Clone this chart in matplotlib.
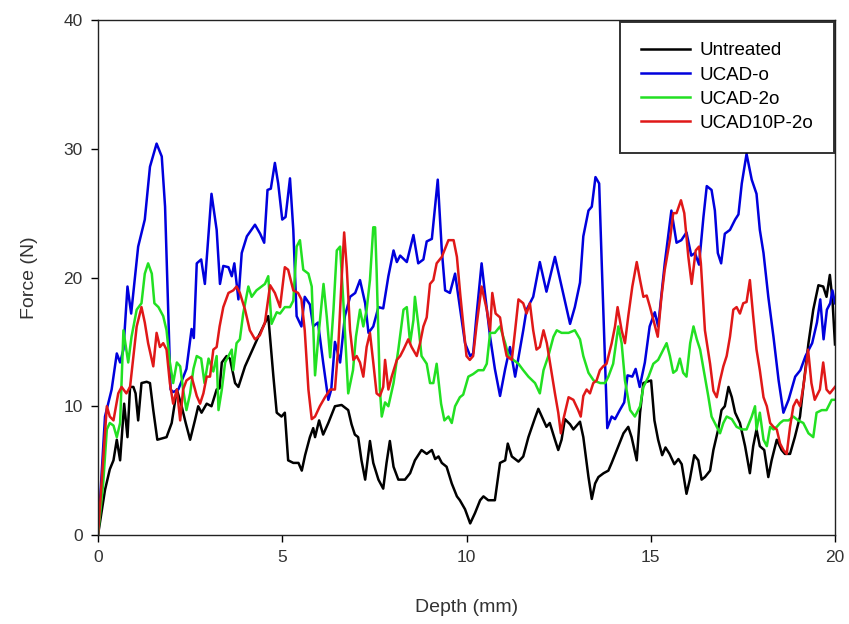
import matplotlib
matplotlib.use("Agg")
import matplotlib.pyplot as plt

plt.rcParams['font.family'] = ['Liberation Sans', 'DejaVu Sans']

series_names = ["Untreated", "UCAD-o", "UCAD-2o", "UCAD10P-2o"]
series_colors = ["#000000", "#0000dd", "#22e022", "#e01818"]

untreated_x = [0, 0.19, 0.32, 0.42, 0.51, 0.6, 0.71, 0.8, 0.87, 0.96, 1.02, 1.09, 1.18, 1.32, 1.41, 1.5,
               1.61, 1.73, 1.86, 2.0, 2.14, 2.27, 2.38, 2.5, 2.63, 2.72, 2.81, 2.95, 3.08, 3.22, 3.3,
               3.36, 3.49, 3.58, 3.72, 3.81, 3.99, 4.35, 4.62, 4.76, 4.85, 4.98, 5.07, 5.16, 5.3, 5.44,
               5.53, 5.62, 5.75, 5.84, 5.89, 6.0, 6.11, 6.25, 6.43, 6.61, 6.79, 6.88, 6.97, 7.06, 7.15,
               7.25, 7.34, 7.38, 7.47, 7.61, 7.74, 7.83, 7.92, 8.02, 8.15, 8.33, 8.47, 8.6, 8.78, 8.92,
               9.06, 9.15, 9.24, 9.33, 9.46, 9.6, 9.74, 9.82, 9.96, 10.1, 10.23, 10.37, 10.46, 10.59,
               10.77, 10.91, 11.05, 11.12, 11.23, 11.41, 11.54, 11.68, 11.86, 11.95, 12.09, 12.17,
               12.26, 12.4, 12.49, 12.58, 12.67, 12.81, 12.9, 13.08, 13.17, 13.31, 13.4, 13.49, 13.58,
               13.72, 13.85, 13.94, 14.08, 14.26, 14.39, 14.48, 14.62, 14.71, 14.8, 14.89, 15.01, 15.1,
               15.2, 15.31, 15.4, 15.51, 15.64, 15.75, 15.84, 15.97, 16.06, 16.18, 16.29, 16.38, 16.47,
               16.61, 16.7, 16.83, 16.92, 17.01, 17.11, 17.2, 17.29, 17.42, 17.56, 17.69, 17.78, 17.87,
               17.96, 18.08, 18.19, 18.28, 18.42, 18.55, 18.64, 18.78, 18.91, 19.05, 19.14, 19.28,
               19.41, 19.55, 19.68, 19.77, 19.86, 19.93, 20.0]
untreated_y = [0, 3.5, 5.1, 5.8, 7.4, 5.8, 10.2, 7.6, 11.5, 11.5, 11.0, 8.9, 11.8, 11.9, 11.8, 9.7,
               7.4, 7.5, 7.6, 8.7, 11.3, 10.0, 8.7, 7.4, 8.9, 10.0, 9.5, 10.2, 10.0, 11.3, 11.4,
               13.4, 13.9, 13.7, 11.8, 11.5, 13.1, 15.4, 17.0, 12.3, 9.5, 9.2, 9.5, 5.8, 5.6, 5.6,
               5.0, 6.2, 7.6, 8.3, 7.6, 8.9, 7.8, 8.7, 10.0, 10.1, 9.7, 8.6, 7.8, 7.6, 5.8,
               4.3, 6.4, 7.3, 5.6, 4.3, 3.6, 5.6, 7.3, 5.3, 4.3, 4.3, 4.8, 5.8, 6.6, 6.3,
               6.6, 5.9, 6.1, 5.6, 5.3, 4.0, 3.0, 2.7, 2.0, 0.9, 1.7, 2.7, 3.0, 2.7,
               2.7, 5.6, 5.8, 7.1, 6.1, 5.7, 6.1, 7.6, 9.1, 9.8, 8.9, 8.4,
               8.7, 7.4, 6.6, 7.4, 9.0, 8.6, 8.2, 8.8, 7.6, 4.5, 2.8, 4.0, 4.5,
               4.8, 5.0, 5.6, 6.6, 7.9, 8.4, 7.6, 5.8, 9.5, 11.8, 11.9, 12.0, 8.9,
               7.4, 6.2, 6.8, 6.3, 5.5, 5.9, 5.5, 3.2, 4.3, 6.2, 5.8, 4.3, 4.5,
               5.0, 6.6, 8.2, 9.7, 10.0, 11.5, 10.7, 9.5, 8.7, 6.9, 4.8, 6.9, 8.2,
               6.9, 6.6, 4.5, 5.8, 7.4, 6.6, 6.3, 6.3, 7.6, 9.2, 11.5, 14.9,
               17.5, 19.4, 19.3, 18.5, 20.2, 18.3, 14.8]

ucad_o_x = [0, 0.19, 0.37, 0.51, 0.6, 0.69, 0.8, 0.9, 1.09, 1.27, 1.41, 1.59, 1.73, 1.82, 1.91, 1.97,
            2.04, 2.18, 2.4, 2.54, 2.6, 2.68, 2.8, 2.9, 3.08, 3.22, 3.31, 3.4, 3.54, 3.63, 3.7, 3.81,
            3.9, 4.04, 4.26, 4.4, 4.51, 4.6, 4.69, 4.8, 4.89, 5.0, 5.09, 5.21, 5.3, 5.39, 5.52, 5.61,
            5.75, 5.84, 5.97, 6.11, 6.25, 6.33, 6.43, 6.57, 6.7, 6.84, 6.98, 7.11, 7.25, 7.34, 7.47,
            7.61, 7.74, 7.88, 8.02, 8.11, 8.2, 8.38, 8.56, 8.69, 8.83, 8.92, 9.06, 9.22, 9.33, 9.42,
            9.55, 9.69, 9.82, 9.96, 10.1, 10.18, 10.27, 10.41, 10.5, 10.64, 10.77, 10.91, 11.05,
            11.18, 11.32, 11.45, 11.54, 11.63, 11.81, 11.99, 12.17, 12.4, 12.58, 12.81, 12.94, 13.08,
            13.17, 13.31, 13.4, 13.5, 13.6, 13.67, 13.76, 13.82, 13.94, 14.03, 14.16, 14.28, 14.37,
            14.5, 14.59, 14.7, 14.84, 14.97, 15.11, 15.2, 15.38, 15.56, 15.7, 15.83, 15.97, 16.1,
            16.2, 16.31, 16.43, 16.52, 16.65, 16.74, 16.82, 16.91, 17.01, 17.15, 17.29, 17.38, 17.47,
            17.6, 17.74, 17.87, 17.96, 18.06, 18.19, 18.33, 18.47, 18.6, 18.74, 18.92, 19.06, 19.2,
            19.38, 19.51, 19.6, 19.69, 19.78, 19.87, 19.93, 20.0]
ucad_o_y = [0, 9.2, 11.3, 14.1, 13.4, 14.4, 19.3, 17.2, 22.4, 24.5, 28.6, 30.4, 29.4, 25.5, 17.0, 11.3,
            11.1, 11.3, 12.9, 16.0, 15.3, 21.1, 21.4, 19.5, 26.5, 23.7, 19.5, 20.9, 20.8, 20.1, 21.1, 18.3,
            21.9, 23.2, 24.1, 23.4, 22.7, 26.8, 26.9, 28.9, 27.3, 24.5, 24.7, 27.7, 23.7, 17.0, 16.2, 18.5,
            17.9, 16.2, 16.5, 13.4, 10.5, 11.3, 15.0, 13.4, 17.0, 18.5, 18.8, 19.8, 18.0, 15.7, 16.2,
            17.7, 17.6, 20.1, 22.1, 21.2, 21.7, 21.2, 23.3, 21.1, 21.4, 22.8, 23.0, 27.6, 22.1, 19.0,
            18.8, 20.3, 17.7, 14.9, 13.9, 14.1, 17.0, 21.1, 18.8, 15.4, 12.9, 10.8, 12.9,
            14.6, 12.3, 14.4, 15.9, 17.5, 18.5, 21.2, 18.9, 21.6, 19.3, 16.4, 17.7, 19.6,
            23.2, 25.2, 25.5, 27.8, 27.3, 21.1, 13.4, 8.3, 9.2, 9.0, 9.7, 10.3, 12.4,
            12.3, 12.9, 11.5, 13.4, 16.2, 17.3, 16.2, 21.1, 25.2, 22.7, 22.9, 23.5, 21.7,
            21.9, 21.0, 24.7, 27.1, 26.8, 25.2, 21.9, 21.1, 23.4, 23.7, 24.5, 24.9, 27.3,
            29.6, 27.6, 26.5, 23.7, 21.9, 18.5, 15.4, 12.0, 9.5, 10.5, 12.3, 12.8, 13.9,
            14.9, 16.5, 18.3, 15.2, 17.5, 18.0, 19.0, 18.0]

ucad_2o_x = [0, 0.14, 0.24, 0.32, 0.42, 0.51, 0.6, 0.69, 0.82, 0.91, 1.05, 1.18, 1.27, 1.36, 1.46, 1.53,
             1.64, 1.77, 1.86, 1.95, 2.04, 2.14, 2.23, 2.31, 2.4, 2.5, 2.59, 2.68, 2.8, 2.89, 3.0, 3.13,
             3.22, 3.27, 3.36, 3.45, 3.54, 3.63, 3.67, 3.76, 3.85, 3.94, 4.08, 4.17, 4.3, 4.44, 4.53,
             4.62, 4.71, 4.85, 4.94, 5.07, 5.21, 5.3, 5.39, 5.48, 5.57, 5.71, 5.8, 5.89, 5.98, 6.12,
             6.21, 6.3, 6.39, 6.48, 6.57, 6.66, 6.79, 6.92, 7.0, 7.11, 7.2, 7.29, 7.38, 7.47, 7.52,
             7.56, 7.65, 7.7, 7.79, 7.88, 8.02, 8.15, 8.29, 8.38, 8.47, 8.56, 8.6, 8.69, 8.78, 8.92,
             9.01, 9.1, 9.19, 9.31, 9.4, 9.51, 9.6, 9.69, 9.82, 9.91, 10.05, 10.18, 10.32, 10.46,
             10.55, 10.64, 10.77, 10.91, 11.05, 11.14, 11.27, 11.41, 11.54, 11.68, 11.86, 11.99,
             12.09, 12.22, 12.36, 12.45, 12.58, 12.77, 12.94, 13.08, 13.17, 13.31, 13.45, 13.63,
             13.76, 13.85, 13.98, 14.12, 14.21, 14.3, 14.44, 14.57, 14.71, 14.8, 14.94, 15.07, 15.2,
             15.34, 15.43, 15.52, 15.61, 15.7, 15.79, 15.88, 15.97, 16.07, 16.16, 16.25, 16.34,
             16.47, 16.56, 16.65, 16.79, 16.88, 16.97, 17.06, 17.2, 17.33, 17.47, 17.6, 17.74,
             17.83, 17.87, 17.96, 18.06, 18.15, 18.24, 18.33, 18.42, 18.51, 18.6, 18.74, 18.87,
             19.0, 19.14, 19.28, 19.41, 19.5, 19.64, 19.77, 19.91, 20.0]
ucad_2o_y = [0, 4.0, 8.2, 8.7, 8.5, 7.6, 8.7, 15.9, 13.4, 15.4, 17.5, 18.0, 20.3, 21.1, 20.3, 18.0,
             17.7, 17.0, 15.9, 13.4, 11.8, 13.4, 13.1, 11.3, 9.7, 11.0, 12.9, 13.9, 13.7, 11.8, 13.7, 12.7,
             13.9, 9.7, 11.3, 13.4, 13.9, 14.4, 12.8, 14.9, 15.2, 17.2, 19.3, 18.5, 19.0, 19.3, 19.5,
             20.1, 16.4, 17.3, 17.2, 17.7, 17.7, 18.2, 22.4, 22.9, 20.6, 20.3, 19.3, 12.4, 15.4, 19.5,
             16.9, 13.8, 17.5, 22.1, 22.4, 18.0, 11.0, 12.8, 15.4, 17.5, 16.2, 17.5, 19.8, 23.9, 23.9,
             20.6, 11.3, 9.2, 10.3, 10.0, 11.8, 14.4, 17.5, 17.7, 14.9, 16.7, 18.5, 16.4, 13.9, 13.3,
             11.8, 11.8, 13.3, 10.2, 8.9, 9.2, 8.7, 10.0, 10.7, 10.9, 12.3, 12.5, 12.8, 12.8,
             13.3, 15.7, 15.7, 16.2, 14.9, 13.9, 13.6, 13.3, 12.8, 12.3, 11.8, 11.0,
             12.8, 13.9, 15.4, 15.9, 15.7, 15.7, 15.9, 15.2, 13.9, 12.6, 12.0, 11.8,
             11.8, 12.3, 13.3, 16.2, 14.9, 12.0, 9.7, 9.2, 10.0, 11.5, 12.3, 13.3, 13.6,
             14.4, 14.9, 13.9, 12.6, 12.8, 13.7, 12.6, 12.3, 14.9, 16.2, 15.2, 14.4,
             12.3, 10.8, 9.2, 8.4, 7.9, 8.7, 9.2, 9.0, 8.4, 8.2, 8.2, 9.2,
             10.0, 8.2, 9.5, 7.4, 6.9, 8.4, 8.2, 8.4, 8.7, 8.9, 8.9, 9.2,
             8.9, 8.7, 7.9, 7.6, 9.5, 9.7, 9.7, 10.5, 10.5]

ucad10p_2o_x = [0, 0.24, 0.32, 0.42, 0.55, 0.64, 0.77, 0.87, 1.0, 1.05, 1.18, 1.27, 1.36, 1.5, 1.59, 1.68,
                1.77, 1.86, 1.95, 2.04, 2.14, 2.23, 2.31, 2.4, 2.54, 2.68, 2.77, 2.86, 2.95, 3.04, 3.13,
                3.22, 3.3, 3.4, 3.54, 3.67, 3.76, 3.85, 3.99, 4.12, 4.26, 4.39, 4.53, 4.67, 4.8, 4.94,
                5.07, 5.16, 5.3, 5.43, 5.52, 5.61, 5.71, 5.8, 5.89, 6.02, 6.16, 6.3, 6.43, 6.52, 6.61,
                6.68, 6.75, 6.84, 6.93, 7.02, 7.11, 7.2, 7.29, 7.38, 7.47, 7.56, 7.65, 7.74, 7.79, 7.88,
                7.97, 8.11, 8.2, 8.29, 8.42, 8.51, 8.65, 8.74, 8.83, 8.92, 9.01, 9.1, 9.19, 9.33, 9.51,
                9.65, 9.74, 9.83, 9.91, 10.0, 10.09, 10.18, 10.27, 10.41, 10.55, 10.64, 10.7, 10.79,
                10.91, 11.0, 11.09, 11.23, 11.32, 11.41, 11.54, 11.63, 11.72, 11.81, 11.9, 11.99, 12.09,
                12.18, 12.27, 12.4, 12.49, 12.56, 12.63, 12.77, 12.9, 13.03, 13.1, 13.17, 13.26, 13.35,
                13.44, 13.53, 13.62, 13.71, 13.8, 13.94, 14.03, 14.1, 14.21, 14.3, 14.39, 14.5, 14.62,
                14.71, 14.8, 14.89, 14.98, 15.07, 15.19, 15.29, 15.38, 15.52, 15.61, 15.7, 15.82, 15.91,
                16.02, 16.11, 16.22, 16.31, 16.36, 16.47, 16.61, 16.7, 16.79, 16.88, 16.97, 17.06,
                17.15, 17.24, 17.33, 17.42, 17.51, 17.6, 17.69, 17.78, 17.87, 17.96, 18.06, 18.15,
                18.24, 18.33, 18.42, 18.51, 18.6, 18.69, 18.78, 18.87, 18.96, 19.05, 19.14, 19.23,
                19.27, 19.36, 19.45, 19.59, 19.68, 19.77, 19.86, 20.0]
ucad10p_2o_y = [0, 10.0, 9.2, 8.9, 11.0, 11.5, 11.0, 11.5, 14.9, 16.2, 17.7, 16.5, 14.9, 13.1, 15.7, 14.6,
                14.9, 14.4, 11.8, 10.2, 11.3, 8.9, 11.3, 12.0, 12.3, 10.8, 10.2, 11.0, 12.3, 12.3, 14.4,
                14.6, 16.2, 17.7, 18.8, 19.0, 19.3, 18.8, 17.5, 15.9, 15.2, 15.5, 16.5, 19.4, 18.8, 17.7,
                20.8, 20.6, 19.0, 18.8, 18.3, 15.9, 11.3, 9.0, 9.2, 10.0, 10.7, 11.3, 11.3, 14.6, 19.8,
                23.5, 20.8, 15.9, 13.6, 13.9, 13.4, 12.3, 14.6, 15.7, 13.4, 11.0, 10.8, 11.5, 13.6, 11.3,
                12.3, 13.6, 13.9, 14.4, 15.2, 14.6, 13.9, 14.9, 16.2, 16.9, 19.5, 19.8, 21.1, 21.6, 22.9,
                22.9, 21.6, 18.7, 16.4, 13.9, 13.6, 13.9, 16.2, 19.3, 17.5, 15.9, 18.8, 17.2,
                16.9, 15.2, 13.9, 13.6, 15.9, 18.3, 18.0, 17.2, 18.0, 15.9, 14.4, 14.6, 15.9,
                14.9, 13.3, 11.0, 9.5, 7.9, 9.0, 10.7, 10.5, 9.7, 9.2, 10.8, 11.3, 11.0,
                11.8, 12.0, 12.8, 13.1, 13.3, 14.9, 16.2, 17.7, 15.9, 14.9, 17.0, 19.3, 21.2,
                19.8, 18.5, 18.6, 17.7, 16.7, 15.4, 18.5, 20.6, 22.9, 25.0, 25.0, 26.0, 25.0,
                21.6, 19.5, 22.1, 22.4, 21.1, 15.9, 13.3, 11.2, 10.7, 12.0, 13.1, 13.9,
                15.4, 17.5, 17.7, 17.2, 18.0, 18.1, 19.8, 17.0, 14.4, 12.8, 10.7, 10.0,
                8.7, 8.4, 8.2, 7.1, 6.6, 6.3, 8.4, 10.0, 10.5, 10.0, 11.5, 13.4,
                14.4, 11.8, 10.5, 11.3, 13.4, 11.3, 11.0, 11.5]

x_ticks = [0, 5, 10, 15, 20]
y_ticks = [0, 10, 20, 30, 40]

fig = plt.figure(figsize=(8.49, 6.24), dpi=100)
ax = fig.add_axes([98 / 849, 1 - 535 / 624, (835 - 98) / 849, (535 - 20) / 624])

all_x = [untreated_x, ucad_o_x, ucad_2o_x, ucad10p_2o_x]
all_y = [untreated_y, ucad_o_y, ucad_2o_y, ucad10p_2o_y]
for xs, ys, name, col in zip(all_x, all_y, series_names, series_colors):
    ax.plot(xs, ys, color=col, lw=1.8, label=name)

ax.set_xlim(0, 20)
ax.set_ylim(0, 40)
ax.set_xticks(x_ticks)
ax.set_yticks(y_ticks)
ax.tick_params(axis='both', direction='out', length=5, width=1, labelsize=12.5,
               labelcolor='#333333', top=False, right=False, pad=6)
for s in ax.spines.values():
    s.set_linewidth(1.0)
    s.set_color('#222222')

ax.set_xlabel("Depth (mm)", fontsize=14, color='#333333', labelpad=24)
ax.set_ylabel("Force (N)", fontsize=14, color='#333333', labelpad=18)

leg = ax.legend(loc='upper right', bbox_to_anchor=(0.998, 0.997), fontsize=13.5,
                frameon=True, fancybox=False, shadow=False, handlelength=2.6,
                handletextpad=0.5, borderpad=1.1, labelspacing=0.38, borderaxespad=0)
leg.get_frame().set_edgecolor('#000000')
leg.get_frame().set_linewidth(1.4)
for line in leg.get_lines():
    line.set_linewidth(1.8)

fig.savefig("out.png", dpi=100)
